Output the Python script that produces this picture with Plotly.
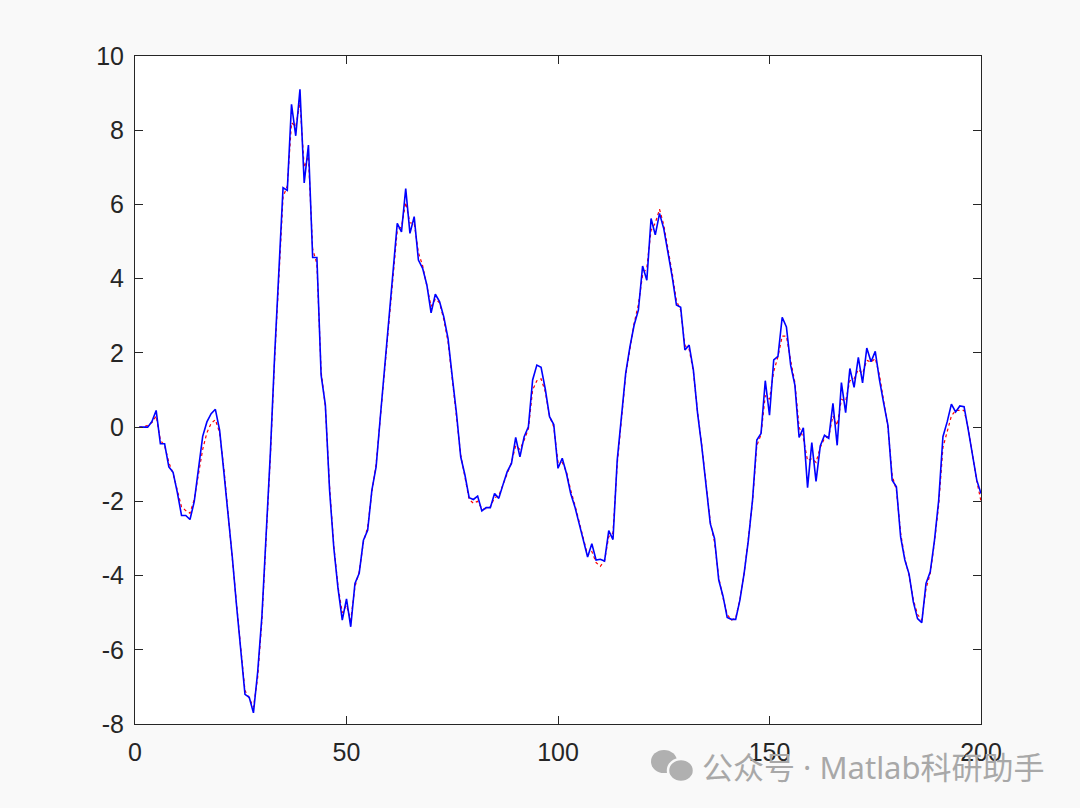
import plotly.graph_objects as go

# ---------------- data ----------------
x_idx = list(range(1, 201))

blue_vals = [
    0, 0, 0, 0.15, 0.45, -0.45, -0.45, -1.07, -1.22, -1.76,
    -2.38, -2.38, -2.49, -2.01, -1.05, -0.25, 0.14, 0.36, 0.48, -0.08,
    -1.2, -2.3, -3.5, -4.8, -6.0, -7.2, -7.28, -7.7, -6.6, -5.1,
    -2.9, -0.7, 1.9, 4.1, 6.45, 6.38, 8.7, 7.85, 9.1, 6.58,
    7.6, 4.57, 4.57, 1.4, 0.6, -1.7, -3.25, -4.35, -5.2, -4.63,
    -5.38, -4.21, -3.94, -3.05, -2.78, -1.7, -1.07, 0.28, 1.54, 2.97,
    4.23, 5.49, 5.26, 6.43, 5.22, 5.67, 4.5, 4.28, 3.83, 3.08,
    3.58, 3.38, 2.97, 2.39, 1.36, 0.37, -0.8, -1.29, -1.9, -1.95,
    -1.86, -2.26, -2.17, -2.17, -1.79, -1.92, -1.55, -1.2, -0.98, -0.28,
    -0.8, -0.26, 0.01, 1.27, 1.67, 1.61, 1.02, 0.28, 0.07, -1.11,
    -0.84, -1.25, -1.79, -2.15, -2.6, -3.05, -3.5, -3.14, -3.58, -3.56,
    -3.61, -2.79, -3.03, -0.89, 0.37, 1.45, 2.16, 2.75, 3.15, 4.34,
    3.96, 5.62, 5.18, 5.76, 5.35, 4.73, 4.05, 3.29, 3.23, 2.08,
    2.21, 1.54, 0.37, -0.53, -1.52, -2.6, -3.0, -4.12, -4.55, -5.13,
    -5.18, -5.18, -4.66, -3.94, -3.05, -1.95, -0.35, -0.17, 1.25, 0.32,
    1.81, 1.91, 2.96, 2.7, 1.67, 1.13, -0.28, -0.02, -1.63, -0.42,
    -1.46, -0.51, -0.22, -0.3, 0.64, -0.49, 1.2, 0.39, 1.58, 1.07,
    1.88, 1.19, 2.13, 1.76, 2.04, 1.27, 0.64, 0.05, -1.43, -1.61,
    -2.96, -3.58, -3.96, -4.71, -5.16, -5.27, -4.21, -3.9, -3.05, -1.97,
    -0.26, 0.14, 0.62, 0.41, 0.57, 0.55, -0.08, -0.8, -1.43, -1.79,
]

red_vals = [
    0, 0, 0.05, 0.12, 0.3, -0.35, -0.5, -0.95, -1.25, -1.7,
    -2.15, -2.25, -2.32, -1.95, -1.25, -0.6, -0.15, 0.1, 0.2, -0.15,
    -1.1, -2.25, -3.45, -4.75, -5.95, -7.1, -7.3, -7.55, -6.75, -5.2,
    -3.0, -0.8, 1.8, 4.0, 6.2, 6.5, 8.2, 8.1, 8.75, 7.0,
    7.3, 4.8, 4.4, 1.5, 0.55, -1.6, -3.2, -4.3, -5.0, -4.8,
    -5.2, -4.3, -3.9, -3.1, -2.7, -1.75, -1.0, 0.25, 1.5, 2.9,
    4.1, 5.3, 5.4, 6.05, 5.5, 5.5, 4.7, 4.35, 3.8, 3.25,
    3.45, 3.35, 2.9, 2.3, 1.3, 0.3, -0.75, -1.35, -1.95, -2.05,
    -2.0, -2.2, -2.2, -2.15, -1.9, -1.85, -1.55, -1.25, -0.95, -0.5,
    -0.6, -0.35, -0.05, 1.0, 1.25, 1.3, 0.95, 0.3, 0.0, -0.95,
    -0.95, -1.2, -1.7, -2.1, -2.55, -3.05, -3.45, -3.35, -3.65, -3.75,
    -3.6, -2.95, -2.85, -1.0, 0.3, 1.4, 2.1, 2.8, 3.3, 4.1,
    4.3, 5.3, 5.5, 5.87, 5.45, 4.85, 4.15, 3.4, 3.15, 2.2,
    2.1, 1.5, 0.4, -0.5, -1.5, -2.55, -3.1, -4.05, -4.6, -5.05,
    -5.2, -5.15, -4.65, -3.95, -3.0, -2.0, -0.5, -0.2, 0.85, 0.75,
    1.5, 1.9, 2.45, 2.45, 1.8, 1.2, 0.0, -0.3, -0.9, -0.85,
    -0.95, -0.55, -0.3, -0.25, 0.3, 0.05, 0.75, 0.7, 1.25, 1.3,
    1.55, 1.45, 1.8, 1.75, 1.85, 1.4, 0.7, 0.0, -1.3, -1.7,
    -2.85, -3.55, -4.0, -4.65, -5.05, -5.2, -4.35, -3.95, -3.1, -2.1,
    -0.55, -0.1, 0.3, 0.45, 0.45, 0.45, -0.05, -0.75, -1.45, -2.0,
]

x_tick_vals = [0, 50, 100, 150, 200]
x_tick_text = ["0", "50", "100", "150", "200"]
y_tick_vals = [-8, -6, -4, -2, 0, 2, 4, 6, 8, 10]
y_tick_text = ["-8", "-6", "-4", "-2", "0", "2", "4", "6", "8", "10"]

watermark_text = "公众号 · Matlab科研助手"

# ---------------- figure ----------------
W, H = 1080, 808
L, R, T, B = 135, 981, 56, 724

fig = go.Figure()
fig.add_trace(go.Scatter(x=x_idx, y=red_vals, mode="lines",
                         line=dict(color="rgb(255,0,0)", width=1.2, dash="dot"),
                         showlegend=False, hoverinfo="skip"))
fig.add_trace(go.Scatter(x=x_idx, y=blue_vals, mode="lines",
                         line=dict(color="rgb(0,0,255)", width=1.6),
                         showlegend=False))

axis_common = dict(
    showgrid=False, zeroline=False, showline=True, mirror="ticks",
    linecolor="#262626", linewidth=1, ticks="inside", ticklen=8,
    tickcolor="#262626", tickwidth=1,
    tickfont=dict(family="Liberation Sans, Arial, sans-serif", size=25, color="#262626"),
)

fig.update_xaxes(range=[0, 200], tickvals=x_tick_vals, ticktext=x_tick_text,
                 ticklabelstandoff=6, **axis_common)
fig.update_yaxes(range=[-8, 10], tickvals=y_tick_vals, ticktext=y_tick_text,
                 ticklabelstandoff=5, **axis_common)

def px2paper_x(px):
    return (px - L) / (R - L)

def px2paper_y(py):
    return (B - py) / (B - T)

# watermark icon (two chat bubbles)
icon_color = "#b0b0b0"
bg = "#f9f9f9"
fig.add_shape(type="circle", xref="paper", yref="paper",
              x0=px2paper_x(651), x1=px2paper_x(677),
              y0=px2paper_y(773), y1=px2paper_y(750),
              fillcolor=icon_color, line=dict(color=icon_color, width=0), layer="above")
fig.add_shape(type="circle", xref="paper", yref="paper",
              x0=px2paper_x(668), x1=px2paper_x(694),
              y0=px2paper_y(782), y1=px2paper_y(759),
              fillcolor=icon_color, line=dict(color=bg, width=2.5), layer="above")

fig.add_annotation(text=watermark_text, xref="paper", yref="paper",
                   x=px2paper_x(700), y=px2paper_y(767), xanchor="left", yanchor="middle",
                   showarrow=False,
                   font=dict(family="Noto Sans, Noto Sans CJK SC", size=31, color="#a8a8a8"))

fig.update_layout(
    width=W, height=H,
    margin=dict(l=L, r=W - R, t=T, b=H - B, pad=0),
    paper_bgcolor=bg, plot_bgcolor="white",
    showlegend=False,
)

fig.write_html("out.html", config={"displayModeBar": False},
               post_script="document.body.style.margin='0';document.body.style.background='#f9f9f9';")
